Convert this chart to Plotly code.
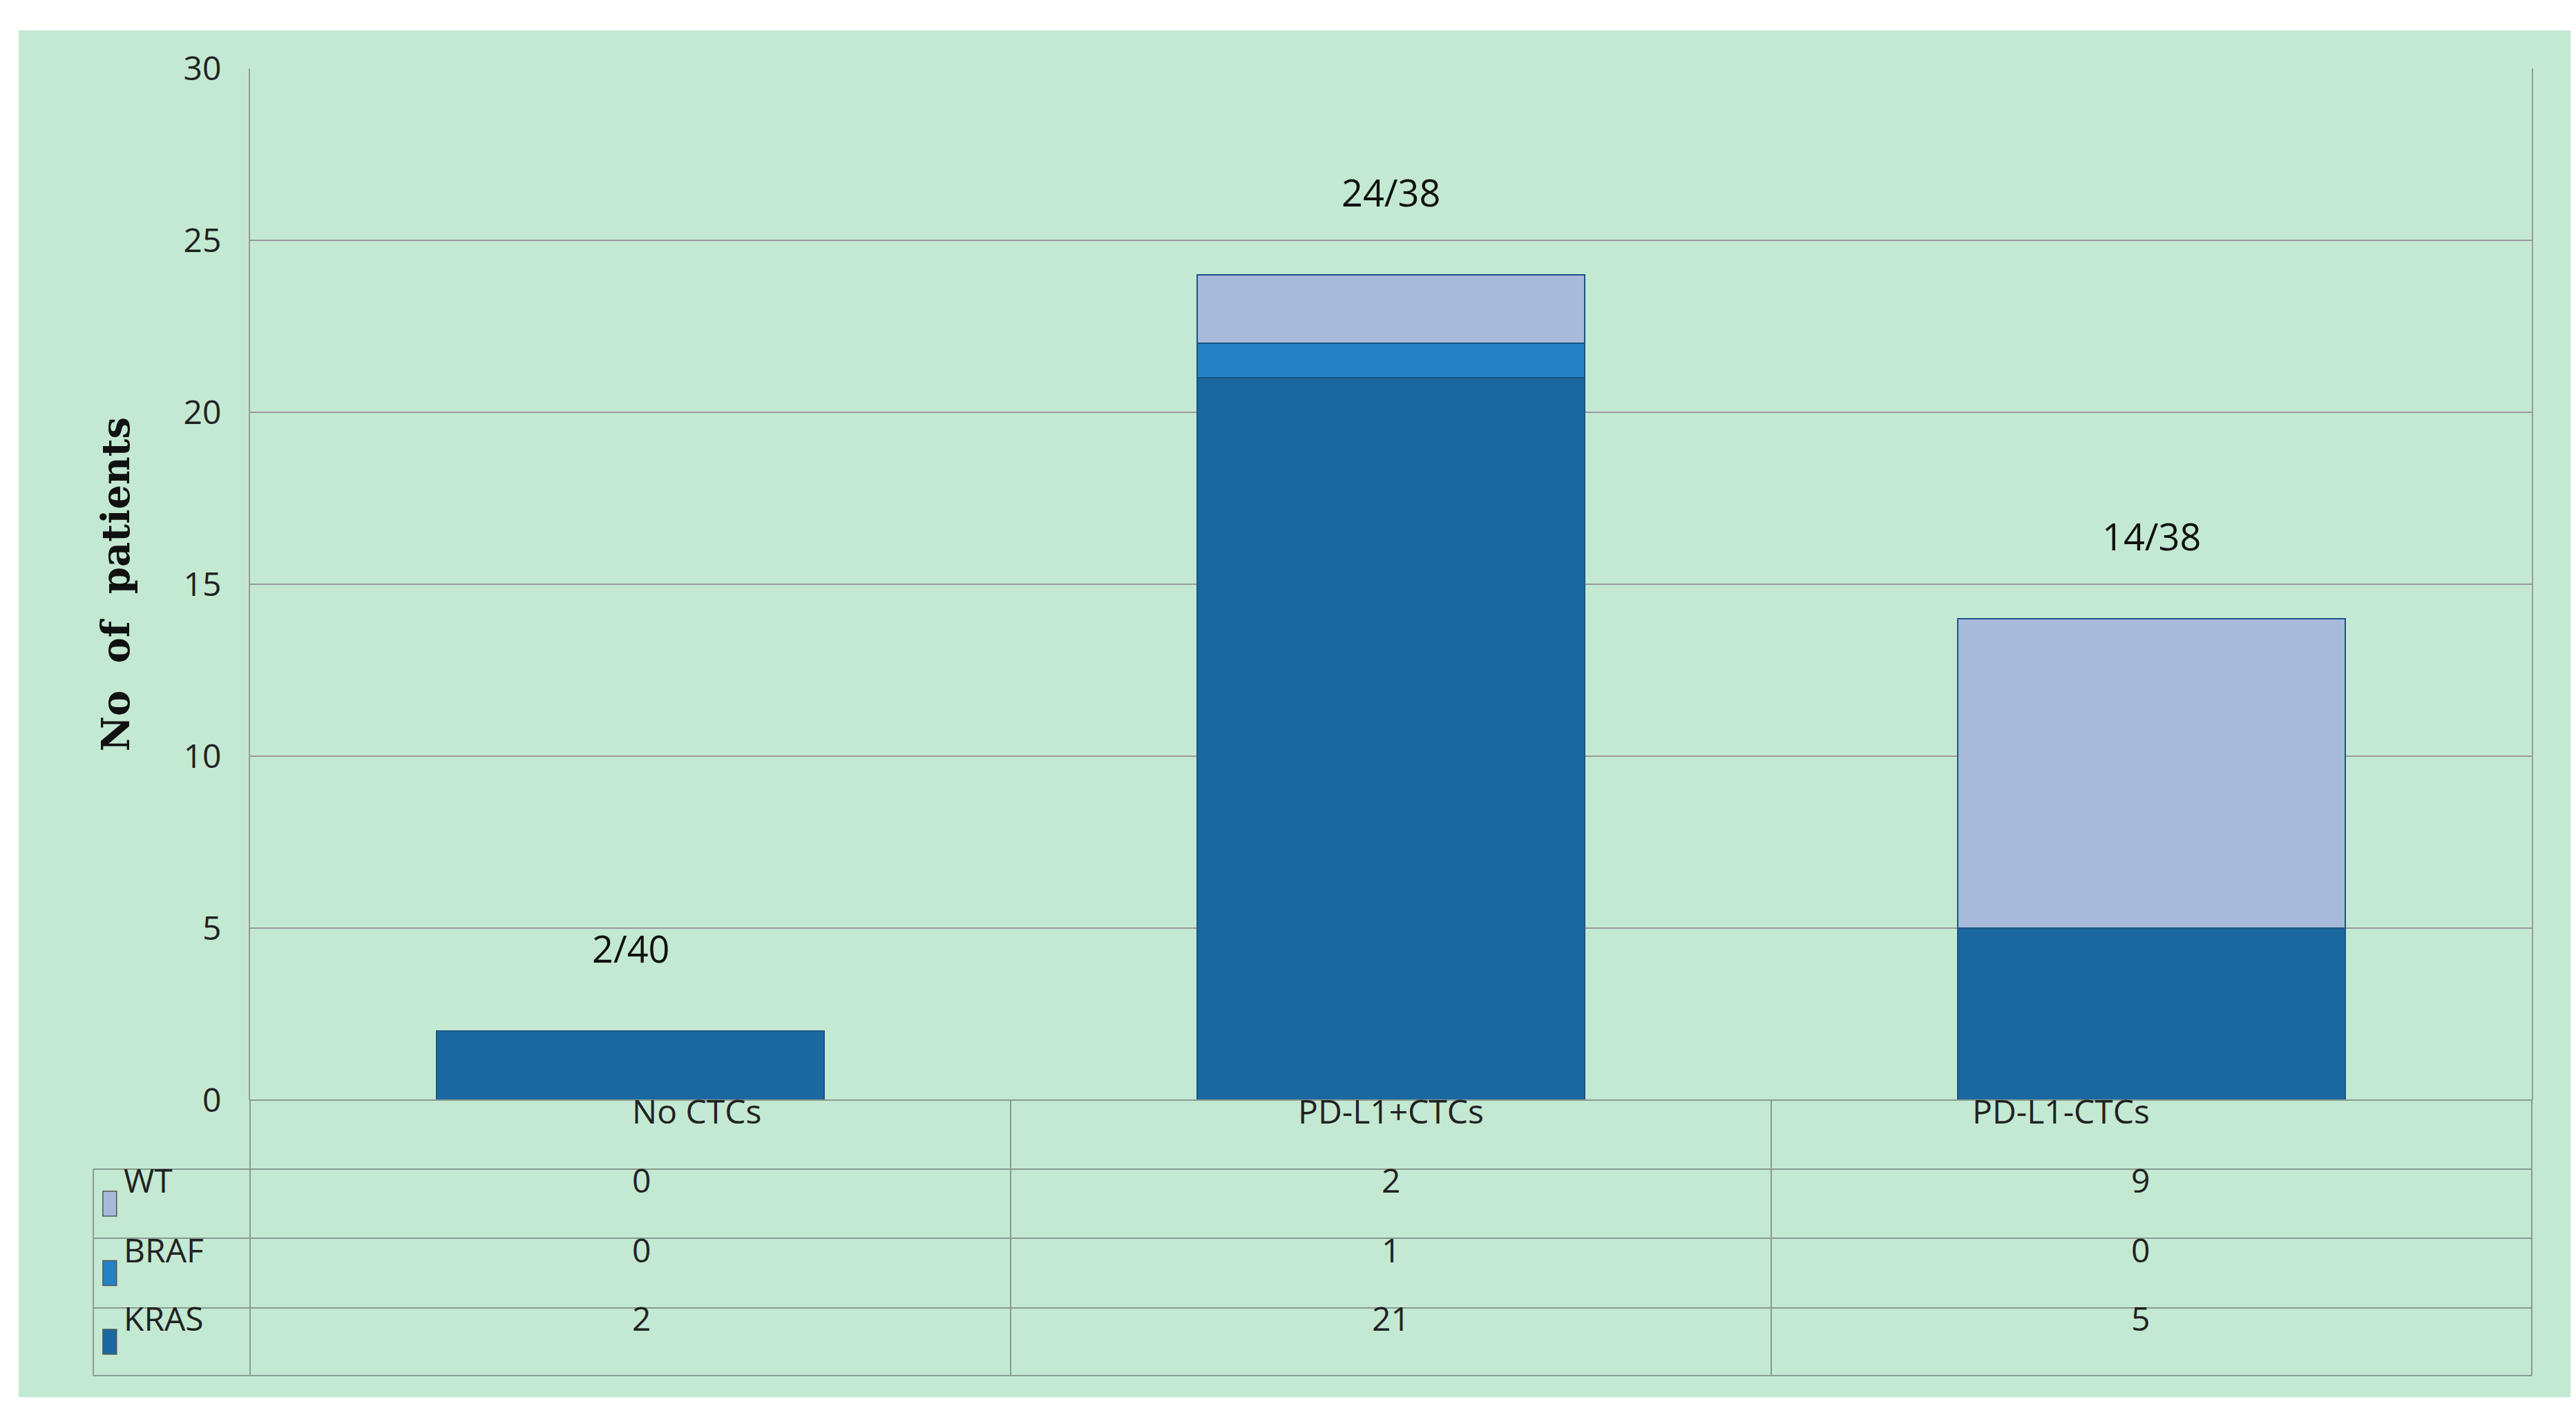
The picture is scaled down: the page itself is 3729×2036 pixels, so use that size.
import plotly.graph_objects as go

categories = ["No CTCs", "PD-L1+CTCs", "PD-L1-CTCs"]
series_names = ["KRAS", "BRAF", "WT"]
kras = [2, 21, 5]
braf = [0, 1, 0]
wt = [0, 2, 9]
totals_text = ["2/40", "24/38", "14/38"]
colors = {"KRAS": "#1b68a0", "BRAF": "#2581c4", "WT": "#a7bad9"}
values = {"KRAS": kras, "BRAF": braf, "WT": wt}
y_ticks = [0, 5, 10, 15, 20, 25, 30]

fig = go.Figure()
for name in series_names:
    fig.add_trace(go.Bar(x=categories, y=values[name], name=name,
                         marker=dict(color=colors[name], line=dict(color="#1a5585", width=2))))

green = "#c3e9d3"
border = "#8a9a90"
shapes = []
# outer green frame
shapes.append(dict(type="rect", xref="paper", yref="paper", x0=-0.1014, x1=1.018, y0=-0.288, y1=1.0368,
                   fillcolor=green, line=dict(width=0), layer="below"))
# table
row_edges = [0, -0.0669, -0.1339, -0.2015, -0.267]
col_edges = [-0.0687, 0, 1/3, 2/3, 1]
shapes.append(dict(type="rect", xref="paper", yref="paper", x0=0, x1=1, y0=row_edges[1], y1=0,
                   line=dict(color=border, width=2), fillcolor="rgba(0,0,0,0)"))
for c in [1/3, 2/3]:
    shapes.append(dict(type="line", xref="paper", yref="paper", x0=c, x1=c, y0=row_edges[4], y1=0,
                       line=dict(color=border, width=2)))
for r in row_edges[1:]:
    shapes.append(dict(type="line", xref="paper", yref="paper", x0=col_edges[0], x1=1, y0=r, y1=r,
                       line=dict(color=border, width=2)))
for c in [col_edges[0], 0, 1]:
    shapes.append(dict(type="line", xref="paper", yref="paper", x0=c, x1=c,
                       y0=row_edges[4], y1=row_edges[1] if c == col_edges[0] else 0,
                       line=dict(color=border, width=2)))

annotations = []
for i, cat in enumerate(categories):
    xc = (col_edges[i + 1] + col_edges[i + 2]) / 2
    annotations.append(dict(xref="paper", yref="paper", x=xc, y=(row_edges[0] + row_edges[1]) / 2,
                            text=cat, showarrow=False, font=dict(size=48, color="#222")))
    total = kras[i] + braf[i] + wt[i]
    annotations.append(dict(x=cat, y=total, yshift=120, text=totals_text[i], showarrow=False,
                            font=dict(size=54, color="#111")))
table_rows = ["WT", "BRAF", "KRAS"]
for r, name in enumerate(table_rows):
    yc = (row_edges[r + 1] + row_edges[r + 2]) / 2
    for i in range(3):
        xc = (col_edges[i + 1] + col_edges[i + 2]) / 2
        annotations.append(dict(xref="paper", yref="paper", x=xc, y=yc, text=str(values[name][i]),
                                showarrow=False, font=dict(size=48, color="#222")))
    annotations.append(dict(xref="paper", yref="paper", x=-0.056, y=yc, xanchor="left", text=name,
                            showarrow=False, font=dict(size=48, color="#222")))
    shapes.append(dict(type="rect", xref="paper", yref="paper", x0=-0.0645, x1=-0.0585,
                       y0=yc - 0.012, y1=yc + 0.012, fillcolor=colors[name],
                       line=dict(color="#555", width=1.5)))

fig.update_layout(
    width=3729, height=2036, barmode="stack", bargap=0.49, showlegend=False,
    paper_bgcolor="white", plot_bgcolor="#e6ecf4",
    margin=dict(l=354, r=72, t=91, b=451),
    shapes=shapes, annotations=annotations,
    font=dict(family="Open Sans, Liberation Sans, sans-serif"),
    xaxis=dict(showticklabels=False, ticks="", showline=False),
    yaxis=dict(range=[0, 30], tickvals=y_ticks, tickfont=dict(size=48, color="#222"),
               gridcolor="#9a9a9a", gridwidth=2, showline=True, linecolor="#9a9a9a", linewidth=2,
               mirror=True, ticks="", ticklabelstandoff=30, zeroline=False,
               title=dict(text="<b>No  of  patients</b>", standoff=60,
                          font=dict(size=56, family="DejaVu Serif, Liberation Serif, serif", color="#111"))),
)
fig.write_html("out.html")
